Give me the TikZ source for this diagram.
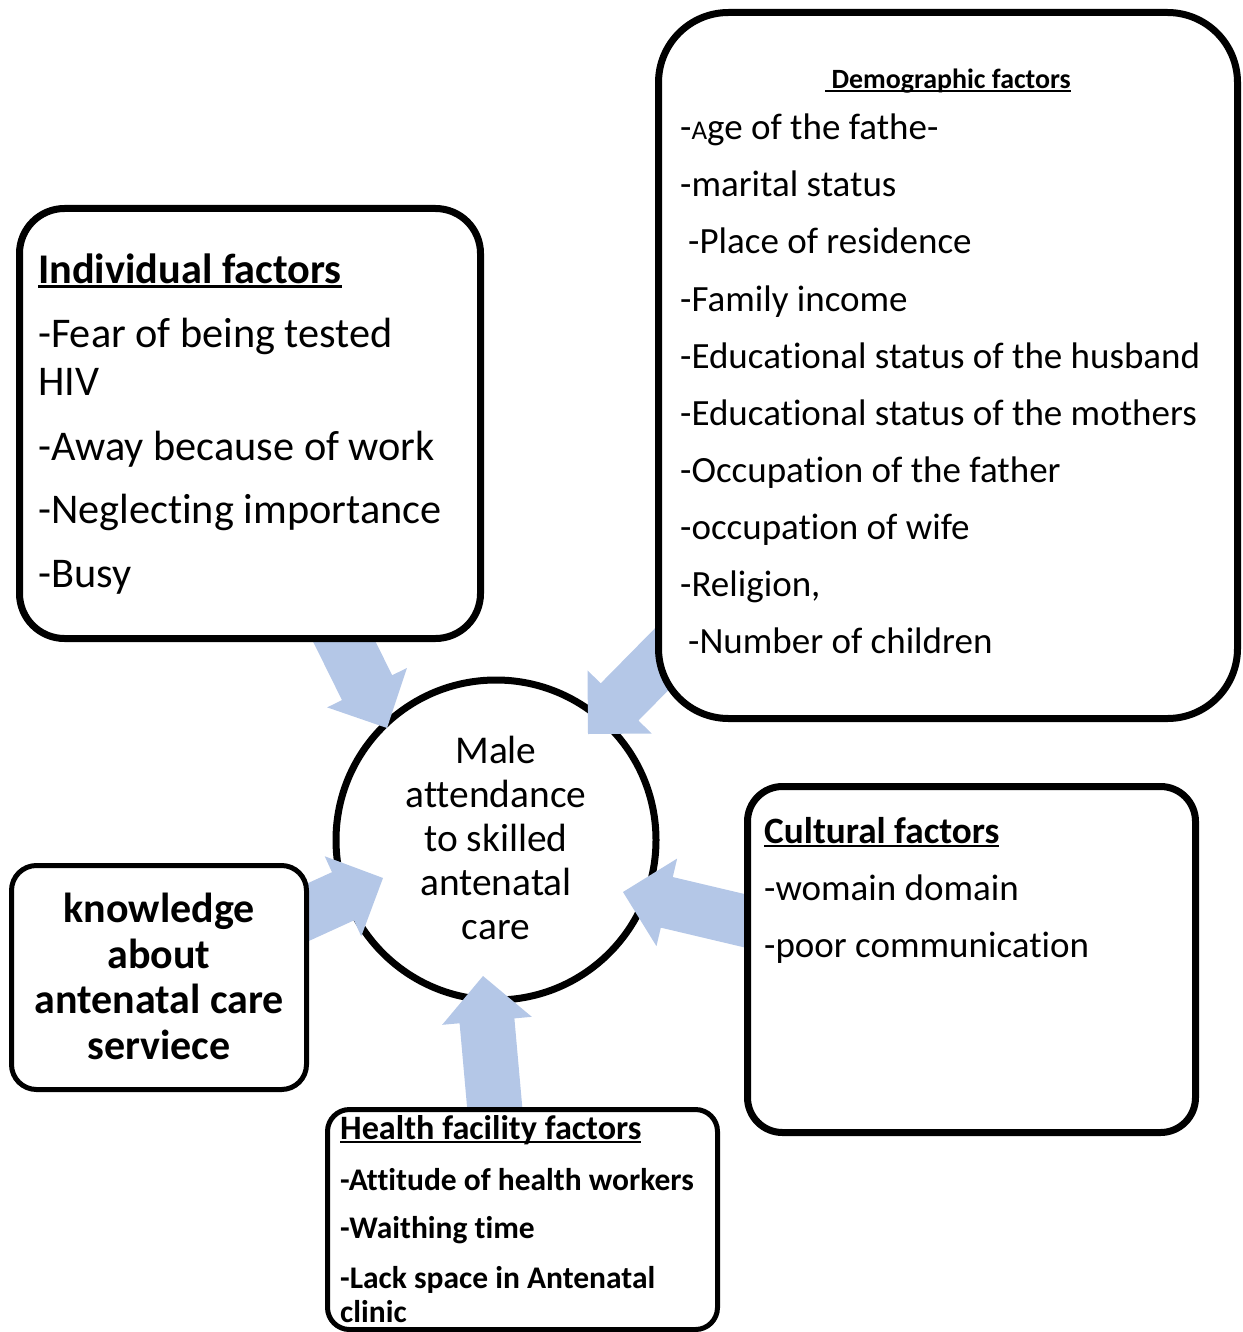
\documentclass[tikz,border=0pt]{standalone}
\usepackage{fontspec}
\setmainfont{Carlito}[Ligatures=NoCommon]
\usetikzlibrary{calc}
\definecolor{arrowblue}{HTML}{B4C7E7}
\newcommand\myul[1]{\setbox0\hbox{#1}\rlap{\rule[-0.11em]{\wd0}{0.065em}}\box0}
\newcommand\blockarrow[6]{%
  \path ($(#2)!#5!(#1)$) coordinate (#6b);
  \fill[arrowblue] ($(#1)!#3!90:(#2)$) -- ($(#6b)!#3!-90:(#1)$) -- ($(#6b)!#4!-90:(#1)$)
    -- (#2) -- ($(#6b)!#4!90:(#1)$) -- ($(#6b)!#3!90:(#1)$) -- ($(#1)!#3!-90:(#2)$) -- cycle;
}
\tikzset{
  box/.style={draw, fill=white, inner sep=0pt, line width=#1},
  box/.default=7pt,
  txt/.style={inner sep=0pt, anchor=base west},
  ctxt/.style={inner sep=0pt, anchor=base},
  indf/.style={font=\fontsize{42.3}{50}\selectfont},
  demf/.style={font=\fontsize{37}{44}\selectfont},
  culf/.style={font=\fontsize{37}{44}\selectfont},
  helf/.style={font=\fontsize{31.5}{38}\selectfont\bfseries},
}
\begin{document}
\begin{tikzpicture}[x=1pt,y=-1pt]
\useasboundingbox (0,0) rectangle (1242,1332);
% centre circle
\node[box, circle, minimum size=320pt] (center) at (496,840) {};
% arrows
\coordinate (s1) at (329.4,611.5); \coordinate (t1) at (387,728);
\coordinate (s2) at (720,600);     \coordinate (t2) at (588,734);
\coordinate (s3) at (264.7,932);   \coordinate (t3) at (383,878);
\coordinate (s4) at (788,931);     \coordinate (t4) at (623,892);
\coordinate (s5) at (496.3,1125.4);\coordinate (t5) at (483,976);
\blockarrow{s1}{t1}{28pt}{44.5pt}{45pt}{a1}
\blockarrow{s2}{t2}{26.5pt}{45pt}{45pt}{a2}
\blockarrow{s3}{t3}{26.5pt}{44pt}{44pt}{a3}
\blockarrow{s4}{t4}{26pt}{45pt}{45pt}{a4}
\blockarrow{s5}{t5}{27.5pt}{45pt}{45pt}{a5}
% boxes
\node[box, rounded corners=45pt, minimum width=461pt, minimum height=430pt] (indbox) at (250,423.5) {};
\node[box, rounded corners=70pt, minimum width=579pt, minimum height=706pt] (dembox) at (948,365.5) {};
\node[box=5pt, rounded corners=25pt, minimum width=295pt, minimum height=224pt] (knowbox) at (159,977.5) {};
\node[box, rounded corners=35pt, minimum width=448pt, minimum height=346pt] (culbox) at (971.5,959.5) {};
\node[box=5pt, rounded corners=22pt, minimum width=390pt, minimum height=220pt] (helbox) at (522.5,1219.5) {};
% centre text
\begin{scope}[font=\fontsize{39.4}{44}\selectfont]
\node[ctxt] (c1) at (496,763) {Male};
\node[ctxt] (c2) at (496,807) {attendance};
\node[ctxt] (c3) at (496,851) {to skilled};
\node[ctxt] (c4) at (496,895) {antenatal};
\node[ctxt] (c5) at (496,939) {care};
\end{scope}
% individual
\node[txt, font=\fontsize{42.3}{50}\selectfont\bfseries] (i0) at (38,283) {\myul{Individual factors}};
\node[txt, indf] (i1) at (38,347) {-Fear of being tested};
\node[txt, indf] (i2) at (38,395) {HIV};
\node[txt, indf] (i3) at (38,460) {-Away because of work};
\node[txt, indf] (i4) at (38,523) {-Neglecting importance};
\node[txt, indf] (i5) at (38,587) {-Busy};
% demographic
\node[txt, font=\fontsize{27.9}{33}\selectfont\bfseries] (d0) at (825,89) {\myul{\ Demographic factors}};
\node[txt, demf] (d1) at (680,140) {-{\fontsize{27}{30}\selectfont A}ge of the fathe-};
\node[txt, demf] (d2) at (680,197) {-marital status};
\node[txt, demf] (d3) at (688,254) {-Place of residence};
\node[txt, demf] (d4) at (680,311) {-Family income};
\node[txt, demf] (d5) at (680,368) {-Educational status of the husband};
\node[txt, demf] (d6) at (680,425) {-Educational status of the mothers};
\node[txt, demf] (d7) at (680,482) {-Occupation of the father};
\node[txt, demf] (d8) at (680,539) {-occupation of wife};
\node[txt, demf] (d9) at (680,596) {-Religion,};
\node[txt, demf] (d10) at (688,653) {-Number of children};
% knowledge
\begin{scope}[font=\fontsize{42}{46}\selectfont\bfseries]
\node[ctxt] (k1) at (159,922) {knowledge};
\node[ctxt] (k2) at (159,968) {about};
\node[ctxt] (k3) at (159,1013) {antenatal care};
\node[ctxt] (k4) at (159,1059) {serviece};
\end{scope}
% cultural
\node[txt, font=\fontsize{37.2}{44}\selectfont\bfseries] (u0) at (764,843) {\myul{Cultural factors}};
\node[txt, culf] (u1) at (764,900) {-womain domain};
\node[txt, culf] (u2) at (764,957) {-poor communication};
% health facility
\node[txt, font=\fontsize{34.2}{40}\selectfont\bfseries] (h0) at (340,1139) {\myul{Health facility factors}};
\node[txt, helf] (h1) at (340,1190) {-Attitude of health workers};
\node[txt, helf] (h2) at (340,1238) {-Waithing time};
\node[txt, helf] (h3) at (340,1288) {-Lack space in Antenatal};
\node[txt, helf] (h4) at (340,1322) {clinic};
\end{tikzpicture}
\end{document}
